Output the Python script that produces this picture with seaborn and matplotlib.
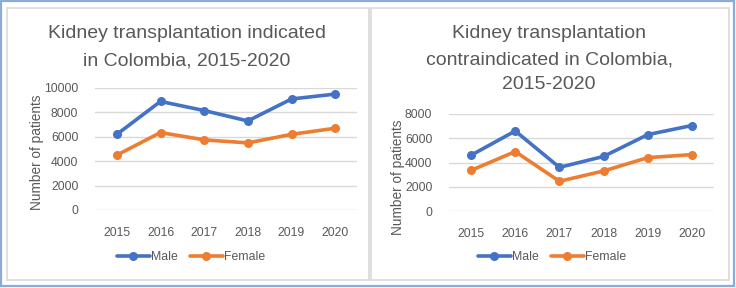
import matplotlib
matplotlib.use("Agg")
import matplotlib.pyplot as plt
from matplotlib.patches import Rectangle
from matplotlib.lines import Line2D
import seaborn as sns
import pandas as pd

years = ["2015", "2016", "2017", "2018", "2019", "2020"]
ind_male = [6200, 8900, 8150, 7300, 9100, 9500]
ind_female = [4500, 6350, 5750, 5500, 6200, 6700]
contra_male = [4600, 6600, 3600, 4500, 6300, 7050]
contra_female = [3350, 4900, 2450, 3300, 4400, 4650]

title_left = "Kidney transplantation indicated\nin Colombia, 2015-2020"
title_right = "Kidney transplantation\ncontraindicated in Colombia,\n2015-2020"
ylabel = "Number of patients"
series_names = ["Male", "Female"]
colors = {"Male": "#4472C4", "Female": "#ED7D31"}

sns.set_theme(style="white")
plt.rcParams["font.family"] = ["Liberation Sans", "DejaVu Sans"]
TXT = "#595959"

W, H = 736, 288
fig = plt.figure(figsize=(W / 100, H / 100), dpi=100)

def fx(px):
    return px / W

def fy(py):
    return 1 - py / H

# frames
fig.patches.append(Rectangle((fx(1), fy(286)), fx(733), 285 / H, transform=fig.transFigure,
                             fill=False, edgecolor="#8EA9DB", linewidth=1.6))
fig.patches.append(Rectangle((fx(7), fy(280)), fx(362), 272 / H, transform=fig.transFigure,
                             fill=False, edgecolor="#D9D9D9", linewidth=1.2))
fig.patches.append(Rectangle((fx(371), fy(280)), fx(358), 272 / H, transform=fig.transFigure,
                             fill=False, edgecolor="#D9D9D9", linewidth=1.2))


def make_df(male, female):
    rows = []
    for i, y in enumerate(years):
        rows.append({"pos": i, "Sex": "Male", "val": male[i]})
        rows.append({"pos": i, "Sex": "Female", "val": female[i]})
    return pd.DataFrame(rows)


def draw(ax, df, ymax, step):
    sns.lineplot(data=df, x="pos", y="val", hue="Sex", hue_order=series_names,
                 palette=colors, marker="o", markersize=6.5, markeredgewidth=0,
                 linewidth=2.6, ax=ax, legend=False)
    ax.set_xlim(-0.5, 5.5)
    ax.set_ylim(0, ymax)
    ax.set_yticks(range(0, ymax + 1, step))
    ax.set_xticks(range(len(years)))
    ax.set_xticklabels(years)
    ax.grid(axis="y", color="#D9D9D9", linewidth=1)
    ax.set_axisbelow(True)
    for s in ax.spines.values():
        s.set_visible(False)
    ax.tick_params(axis="both", length=0, labelsize=8.8, colors=TXT)
    ax.tick_params(axis="x", pad=12)
    ax.tick_params(axis="y", pad=12)
    ax.set_xlabel("")
    ax.set_ylabel("")
    ax.set_facecolor("none")


def title_lines(text, cx, ys):
    for line, y in zip(text.split("\n"), ys):
        fig.text(fx(cx), fy(y), line, ha="center", va="center", fontsize=14, color=TXT)


# left panel
axL = fig.add_axes([fx(95), fy(210), fx(262), 122 / H])
draw(axL, make_df(ind_male, ind_female), 10000, 2000)
title_lines(title_left, 187, [34, 61])
fig.text(fx(37), fy(152), ylabel, rotation=90, ha="center", va="center",
         fontsize=9.8, color=TXT)

# right panel
axR = fig.add_axes([fx(449), fy(211), fx(265), 97 / H])
draw(axR, make_df(contra_male, contra_female), 8000, 2000)
title_lines(title_right, 549, [34, 60, 84])
fig.text(fx(398), fy(177), ylabel, rotation=90, ha="center", va="center",
         fontsize=9.8, color=TXT)

# legends
handles = [Line2D([], [], color=colors[n], marker="o", markersize=6.5, linewidth=2.6,
                  markeredgewidth=0) for n in series_names]
for cx in (191, 552):
    fig.legend(handles, series_names, loc="center", bbox_to_anchor=(fx(cx), fy(257)),
               ncol=2, frameon=False, fontsize=8.8, labelcolor=TXT, handlelength=2.7,
               handletextpad=0.1, columnspacing=1.0, borderpad=0)

fig.savefig("out.png", dpi=100)
